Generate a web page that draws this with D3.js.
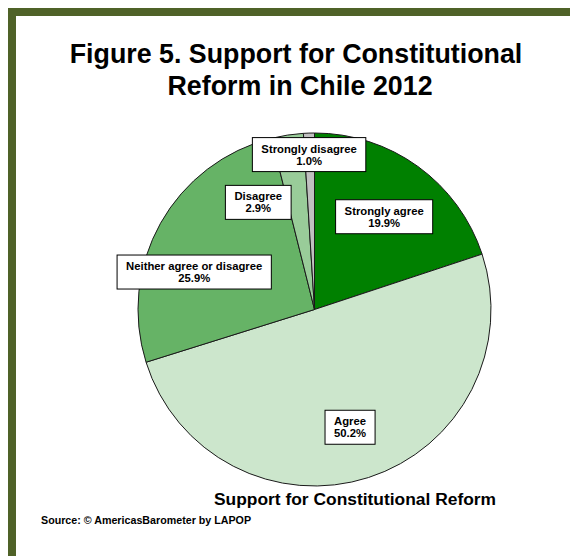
<!DOCTYPE html>
<html>
<head>
<meta charset="utf-8">
<script src="https://cdn.jsdelivr.net/npm/d3@7"></script>
<style>
  body { margin: 0; background: #fff; }
  svg { display: block; font-family: "Liberation Sans", Arial, sans-serif; }
</style>
</head>
<body>
<div id="chart"></div>
<script>
// Support for constitutional reform, Chile 2012
var categories = ["Strongly agree", "Agree", "Neither agree or disagree", "Disagree", "Strongly disagree"];
var values = [19.9, 50.2, 25.9, 2.9, 1.0];
var colors = ["#008000", "#cce6cc", "#66b366", "#99cc99", "#c0c0c0"];

var width = 570, height = 556;
var cx = 314.5, cy = 309.5, radius = 176.5;

// where each label box sits: angle (deg, clockwise from top) and distance from centre
var labelPlace = [
  {a: 36.9, r: 116},
  {a: 163.2, r: 123},
  {a: 287.3, r: 126},
  {a: 332.3, r: 121},
  {a: 358, r: 155}
];

var svg = d3.select('#chart')
  .append('svg')
    .attr('width', width)
    .attr('height', height);

// olive frame, top and left only
svg.append('rect')
    .attr('x', 8).attr('y', 8)
    .attr('width', width - 8).attr('height', 8)
    .attr('fill', '#4f6228');
svg.append('rect')
    .attr('x', 8).attr('y', 8)
    .attr('width', 8).attr('height', height - 8)
    .attr('fill', '#4f6228');

svg.append('text')
    .attr('x', 296).attr('y', 63)
    .attr('text-anchor', 'middle')
    .attr('font-size', 26.8).attr('font-weight', 'bold')
    .text('Figure 5. Support for Constitutional');
svg.append('text')
    .attr('x', 300).attr('y', 95)
    .attr('text-anchor', 'middle')
    .attr('font-size', 26.8).attr('font-weight', 'bold')
    .text('Reform in Chile 2012');

var pie = d3.pie().sort(null).value(d => d);
var arc = d3.arc().innerRadius(0).outerRadius(radius);
var arcs = pie(values);

var g = svg.append('g')
    .attr('transform', 'translate(' + cx + ',' + cy + ')');

g.selectAll('path')
  .data(arcs)
  .join('path')
    .attr('d', arc)
    .attr('fill', (d, i) => colors[i])
    .attr('stroke', '#1a1a1a')
    .attr('stroke-width', 1)
    .attr('stroke-linejoin', 'round');

var labels = g.selectAll('g.lbl')
  .data(arcs)
  .join('g')
    .attr('class', 'lbl')
    .attr('transform', (d, i) => {
      var p = labelPlace[i];
      var t = p.a * Math.PI / 180;
      return 'translate(' + (p.r * Math.sin(t)) + ',' + (-p.r * Math.cos(t)) + ')';
    });

labels.each(function(d, i) {
  var lg = d3.select(this);
  var box = lg.append('rect');
  var txt = lg.append('text')
      .attr('text-anchor', 'middle')
      .attr('font-size', 11.3)
      .attr('font-weight', 'bold')
      .attr('fill', '#000');
  txt.append('tspan').attr('x', 0).attr('y', -2).text(categories[i]);
  txt.append('tspan').attr('x', 0).attr('y', 10).text(values[i].toFixed(1) + '%');
  var bb = txt.node().getBBox();
  box.attr('x', bb.x - 9).attr('y', -17)
      .attr('width', bb.width + 18).attr('height', 34)
      .attr('fill', '#fff')
      .attr('stroke', '#000')
      .attr('stroke-width', 1);
});

svg.append('text')
    .attr('x', 355).attr('y', 505)
    .attr('text-anchor', 'middle')
    .attr('font-size', 17.4).attr('font-weight', 'bold')
    .text('Support for Constitutional Reform');

svg.append('text')
    .attr('x', 41).attr('y', 524)
    .attr('font-size', 10.7).attr('font-weight', 'bold')
    .text('Source: \u00a9 AmericasBarometer by  LAPOP');
</script>
</body>
</html>
